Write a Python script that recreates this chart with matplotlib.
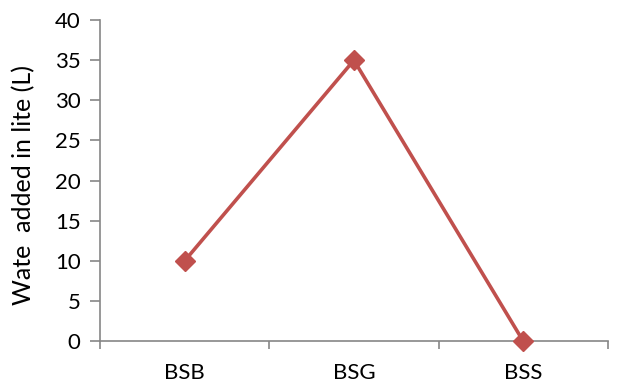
import numpy as np
import matplotlib.pyplot as plt

categories = ['BSB', 'BSG', 'BSS']
water_added = [10, 35, 0]
yticks = [0, 5, 10, 15, 20, 25, 30, 35, 40]

plt.rcParams['font.family'] = ['Lato', 'DejaVu Sans']

fig = plt.figure(figsize=(6.22, 3.87), dpi=100)
ax = fig.add_axes([0.161, 0.119, 0.816, 0.829])

x = np.arange(len(categories))
ax.plot(x, water_added, color='#C0504D', lw=2.6, marker='D', ms=10,
        markerfacecolor='#C0504D', markeredgecolor='#C0504D', clip_on=False, zorder=3)

ax.set_xlim(-0.5, len(categories) - 0.5)
ax.set_ylim(0, 40)
ax.set_yticks(yticks)
ax.set_xticks(x)
ax.set_xticklabels(categories)
ax.set_xticks(np.arange(len(categories) + 1) - 0.5, minor=True)

for side in ['top', 'right']:
    ax.spines[side].set_visible(False)
for side in ['left', 'bottom']:
    ax.spines[side].set_color('#868686')
    ax.spines[side].set_linewidth(1.2)

ax.tick_params(axis='y', direction='out', length=7, width=1.2, color='#868686',
               labelsize=16, pad=7)
ax.tick_params(axis='x', which='major', length=0, labelsize=16, pad=16)
ax.tick_params(axis='x', which='minor', direction='out', length=6, width=1.2,
               color='#868686')

ax.set_ylabel('Wate  added in lite (L)', fontsize=18)
ax.yaxis.set_label_coords(-0.128, 0.485)

fig.savefig('out.png', dpi=100)
